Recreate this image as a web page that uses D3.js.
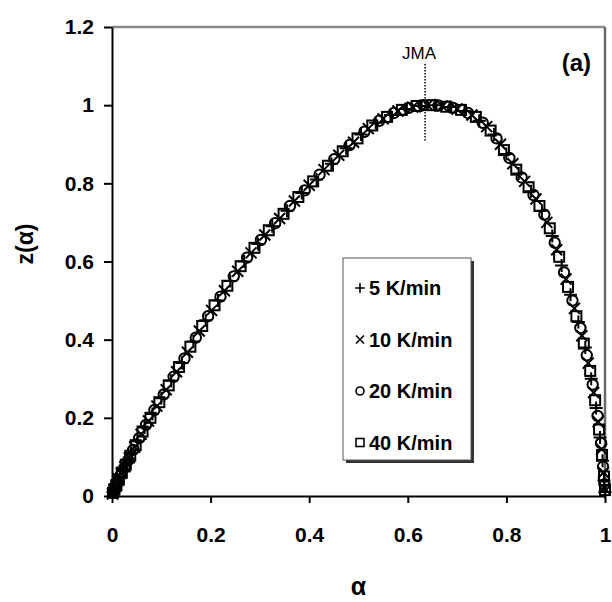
<!DOCTYPE html>
<html><head><meta charset="utf-8">
<script src="https://cdn.jsdelivr.net/npm/d3@7"></script>
<style>body{margin:0;background:#fff}svg{display:block}text{font-family:"Liberation Sans",Arial,sans-serif}</style>
</head><body><svg id="c" width="612" height="602"></svg>
<script>
const xTicks=[0,0.2,0.4,0.6,0.8,1];
const yTicks=[0,0.2,0.4,0.6,0.8,1,1.2];
const seriesNames=["5 K/min","10 K/min","20 K/min","40 K/min"];
const seriesSymbols=["plus","cross","circle","square"];
const jmaAlpha=0.635;
const s5=[[0.002,0.01],[0.006,0.02],[0.01,0.03],[0.016,0.05],[0.022,0.065],[0.03,0.085],[0.04,0.11],[0.052,0.14],[0.066,0.175],[0.082,0.21],[0.1,0.25],[0.12,0.295],[0.142,0.34],[0.165,0.395],[0.19,0.45],[0.215,0.5],[0.24,0.55],[0.268,0.6],[0.296,0.645],[0.325,0.69],[0.355,0.73],[0.385,0.775],[0.415,0.81],[0.445,0.85],[0.475,0.89],[0.505,0.925],[0.535,0.955],[0.565,0.975],[0.595,0.99],[0.625,0.998],[0.655,1.0],[0.685,0.995],[0.715,0.985],[0.745,0.96],[0.775,0.925],[0.8,0.875],[0.825,0.825],[0.85,0.78],[0.872,0.73],[0.893,0.665],[0.912,0.59],[0.93,0.515],[0.946,0.445],[0.96,0.38],[0.972,0.3],[0.982,0.225],[0.99,0.15],[0.995,0.09],[0.998,0.04],[1.0,0.01]];
const s10=[[0.001,0.005],[0.004,0.015],[0.008,0.025],[0.013,0.04],[0.019,0.058],[0.026,0.075],[0.035,0.098],[0.046,0.125],[0.059,0.158],[0.074,0.192],[0.091,0.23],[0.11,0.272],[0.131,0.318],[0.153,0.368],[0.177,0.422],[0.202,0.475],[0.228,0.525],[0.255,0.575],[0.282,0.622],[0.31,0.668],[0.34,0.71],[0.37,0.755],[0.4,0.795],[0.43,0.835],[0.46,0.872],[0.49,0.905],[0.52,0.94],[0.55,0.965],[0.58,0.985],[0.61,0.995],[0.64,1.0],[0.67,0.998],[0.7,0.99],[0.73,0.975],[0.76,0.945],[0.788,0.9],[0.813,0.85],[0.837,0.805],[0.86,0.76],[0.882,0.7],[0.902,0.63],[0.921,0.555],[0.938,0.48],[0.953,0.41],[0.966,0.34],[0.977,0.265],[0.986,0.19],[0.993,0.12],[0.997,0.06],[0.999,0.02]];
const s20=[[0.003,0.012],[0.007,0.022],[0.012,0.036],[0.018,0.054],[0.025,0.072],[0.033,0.092],[0.043,0.118],[0.055,0.148],[0.069,0.182],[0.086,0.22],[0.105,0.26],[0.125,0.305],[0.147,0.352],[0.17,0.405],[0.195,0.46],[0.22,0.51],[0.247,0.562],[0.274,0.61],[0.302,0.655],[0.331,0.698],[0.361,0.742],[0.391,0.782],[0.421,0.822],[0.451,0.862],[0.482,0.898],[0.512,0.932],[0.542,0.96],[0.572,0.98],[0.602,0.993],[0.632,1.0],[0.662,0.999],[0.692,0.993],[0.722,0.98],[0.752,0.955],[0.78,0.915],[0.806,0.865],[0.831,0.815],[0.855,0.77],[0.877,0.72],[0.898,0.648],[0.917,0.572],[0.934,0.5],[0.95,0.43],[0.963,0.36],[0.975,0.285],[0.985,0.205],[0.992,0.135],[0.996,0.075],[0.999,0.03]];
const s40=[[0.002,0.008],[0.005,0.018],[0.009,0.028],[0.014,0.043],[0.02,0.06],[0.028,0.08],[0.037,0.103],[0.048,0.13],[0.062,0.165],[0.078,0.2],[0.096,0.24],[0.115,0.283],[0.136,0.33],[0.159,0.382],[0.183,0.435],[0.208,0.488],[0.234,0.538],[0.261,0.588],[0.289,0.635],[0.318,0.68],[0.348,0.722],[0.378,0.765],[0.408,0.805],[0.438,0.845],[0.468,0.882],[0.498,0.915],[0.528,0.948],[0.558,0.97],[0.588,0.988],[0.618,0.998],[0.648,1.0],[0.678,0.996],[0.708,0.988],[0.738,0.97],[0.768,0.935],[0.795,0.885],[0.82,0.835],[0.845,0.79],[0.867,0.742],[0.888,0.685],[0.907,0.612],[0.925,0.535],[0.942,0.46],[0.957,0.39],[0.97,0.32],[0.98,0.245],[0.988,0.17],[0.994,0.105],[0.998,0.05],[1.0,0.015]];
const allSeries=[s5,s10,s20,s40];

const svg=d3.select("#c");
const L=112,R=605,T=27,B=496;
const x=d3.scaleLinear().domain([0,1]).range([L,R]);
const y=d3.scaleLinear().domain([0,1.2]).range([B,T]);

// frame (top/right gray)
svg.append("line").attr("x1",L).attr("x2",R).attr("y1",T).attr("y2",T).attr("stroke","#8a8a8a").attr("stroke-width",2.5);
svg.append("line").attr("x1",R).attr("x2",R).attr("y1",T).attr("y2",B).attr("stroke","#6a6a6a").attr("stroke-width",2.5);

const fmt=d=>d3.format("~g")(d);
const ga=svg.append("g").attr("transform",`translate(${L},0)`).call(d3.axisLeft(y).tickValues(yTicks).tickSize(8).tickSizeOuter(0).tickPadding(10).tickFormat(fmt));
const gb=svg.append("g").attr("transform",`translate(0,${B})`).call(d3.axisBottom(x).tickValues(xTicks).tickSize(7).tickSizeOuter(0).tickPadding(24).tickFormat(fmt));
[ga,gb].forEach(g=>{
  g.select(".domain").attr("stroke","#000").attr("stroke-width",2);
  g.selectAll(".tick line").attr("stroke","#000").attr("stroke-width",2);
  g.selectAll(".tick text").attr("fill","#000").style("font-size","21px").style("font-weight","bold").style("font-family","'Liberation Sans',Arial,sans-serif");
});

// axis titles
svg.append("text").attr("x",(L+R)/2).attr("y",595).attr("text-anchor","middle").style("font-size","25px").style("font-weight","bold").text("α");
svg.append("text").attr("transform",`translate(33,244) rotate(-90)`).attr("text-anchor","middle").style("font-size","23px").style("font-weight","bold").text("z(α)");

// markers
function drawSym(g,type,cx,cy,s){
  if(type==="plus"){
    g.append("path").attr("d",`M${cx-s},${cy}H${cx+s}M${cx},${cy-s}V${cy+s}`);
  }else if(type==="cross"){
    g.append("path").attr("d",`M${cx-s},${cy-s}L${cx+s},${cy+s}M${cx-s},${cy+s}L${cx+s},${cy-s}`);
  }else if(type==="circle"){
    g.append("circle").attr("cx",cx).attr("cy",cy).attr("r",s);
  }else{
    g.append("rect").attr("x",cx-s).attr("y",cy-s).attr("width",2*s).attr("height",2*s);
  }
}
const sizes={plus:6.5,cross:5.5,circle:5.2,square:5};
allSeries.forEach((data,i)=>{
  const g=svg.append("g").attr("fill","none").attr("stroke","#000").attr("stroke-width",2);
  data.forEach(d=>drawSym(g,seriesSymbols[i],x(d[0]),y(d[1]),sizes[seriesSymbols[i]]));
});

// JMA marker line
svg.append("line").attr("x1",x(jmaAlpha)).attr("x2",x(jmaAlpha)).attr("y1",64).attr("y2",142).attr("stroke","#000").attr("stroke-width",1.5).attr("stroke-dasharray","1.5,1.5");
svg.append("text").attr("x",x(jmaAlpha)-6).attr("y",59).attr("text-anchor","middle").style("font-size","17px").text("JMA");
svg.append("text").attr("x",591).attr("y",71).attr("text-anchor","end").style("font-size","24px").style("font-weight","bold").text("(a)");

// legend
const lg=svg.append("g");
const lx=343,ly=258,lw=128,lh=202;
lg.append("rect").attr("x",lx+3).attr("y",ly+3).attr("width",lw).attr("height",lh).attr("fill","#333");
lg.append("rect").attr("x",lx).attr("y",ly).attr("width",lw).attr("height",lh).attr("fill","#fff").attr("stroke","#555").attr("stroke-width",1);
seriesNames.forEach((n,i)=>{
  const cy=ly+30+i*51.5;
  const g=lg.append("g").attr("fill","none").attr("stroke","#000").attr("stroke-width",1.6);
  drawSym(g,seriesSymbols[i],lx+17,cy,seriesSymbols[i]==="plus"?4.8:4);
  lg.append("text").attr("x",lx+26).attr("y",cy+7).style("font-size","20px").style("font-weight","bold").text(n);
});
</script></body></html>
